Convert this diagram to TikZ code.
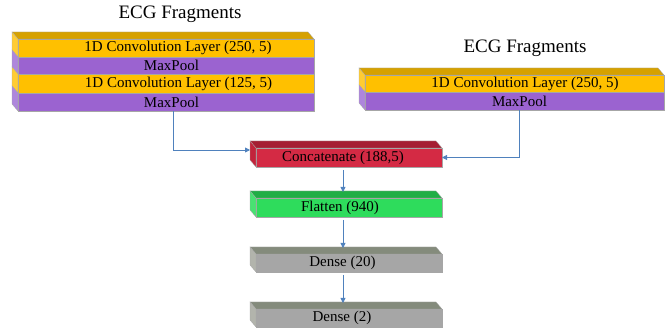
\documentclass[tikz,border=0pt]{standalone}
\usepackage{fontspec}
\setmainfont{Liberation Serif}
\usetikzlibrary{calc,arrows.meta}

\definecolor{convfront}{HTML}{FFC000}
\definecolor{convtop}{HTML}{D6A100}
\definecolor{convside}{HTML}{FFCC33}
\definecolor{poolfront}{HTML}{9B63D0}
\definecolor{poolside}{HTML}{AE86DC}
\definecolor{catfront}{HTML}{D42A44}
\definecolor{cattop}{HTML}{A51E32}
\definecolor{catside}{HTML}{C2243B}
\definecolor{flatfront}{HTML}{2EDC5C}
\definecolor{flattop}{HTML}{20AE45}
\definecolor{flatside}{HTML}{48E272}
\definecolor{densefront}{HTML}{A6A6A6}
\definecolor{densetop}{HTML}{848B7C}
\definecolor{denseside}{HTML}{B2B4AC}
\definecolor{linkblue}{HTML}{4F81BD}

% depth of the slanted faces (up and to the left)
\newcommand{\dx}{-6}
\newcommand{\dy}{-7}
% left side face of a slab
\newcommand{\sideface}[2]{%
  \filldraw[face, fill=#2] (#1.north west) -- (#1.south west)
    -- ++(\dx,\dy) -- ($(#1.north west)+(\dx,\dy)$) -- cycle;}
% top face of a slab
\newcommand{\topface}[2]{%
  \filldraw[face, fill=#2] (#1.north west) -- (#1.north east)
    -- ++(\dx,\dy) -- ($(#1.north west)+(\dx,\dy)$) -- cycle;}

\begin{document}
\begin{tikzpicture}[x=1pt,y=-1pt,
  face/.style={draw=black!35, line width=0.3pt},
  slab/.style={rectangle, anchor=north west, inner sep=0pt, outer sep=0pt,
    draw=black!35, line width=0.3pt, minimum width=#1,
    font=\fontsize{15}{18}\selectfont},
  tright/.style={execute at begin node={\hspace*{#1}}},
  tleft/.style={execute at end node={\hspace*{#1}}},
  title/.style={anchor=base, inner sep=0pt, font=\fontsize{19}{22}\selectfont},
  conn/.style={draw=linkblue, line width=0.8pt,
    -{Triangle[length=5pt,width=5pt]}}]

\useasboundingbox (0,0) rectangle (665,328);

% titles
\node[title] (t1) at (180,19) {ECG Fragments};
\node[title] (t2) at (525,53) {ECG Fragments};

% left branch
\node[slab=296pt, minimum height=18pt, fill=convfront, tright=24pt] (c1) at (18,39) {1D Convolution Layer (250, 5)};
\topface{c1}{convtop}
\sideface{c1}{convside}
\node[slab=296pt, minimum height=17pt, fill=poolfront, tright=11pt] (m1) at (18,57) {MaxPool};
\sideface{m1}{poolside}
\node[slab=296pt, minimum height=19pt, fill=convfront, tright=25pt] (c2) at (18,74) {1D Convolution Layer (125, 5)};
\sideface{c2}{convside}
\node[slab=296pt, minimum height=18pt, fill=poolfront, tright=11pt] (m2) at (18,93) {MaxPool};
\sideface{m2}{poolside}

% right branch
\node[slab=299pt, minimum height=17pt, fill=convfront, tright=21pt] (rc) at (365,75) {1D Convolution Layer (250, 5)};
\topface{rc}{convtop}
\sideface{rc}{convside}
\node[slab=299pt, minimum height=18pt, fill=poolfront, tright=10pt] (rm) at (365,92) {MaxPool};
\sideface{rm}{poolside}

% merged trunk
\node[slab=186pt, minimum height=19pt, fill=catfront, tleft=12pt] (cat) at (256,148) {Concatenate (188,5)};
\topface{cat}{cattop}
\sideface{cat}{catside}
\node[slab=186pt, minimum height=19pt, fill=flatfront, tleft=18pt] (flat) at (256,198) {Flatten (940)};
\topface{flat}{flattop}
\sideface{flat}{flatside}
\node[slab=186pt, minimum height=18pt, fill=densefront, tleft=13pt] (d20) at (256,254) {Dense (20)};
\topface{d20}{densetop}
\sideface{d20}{denseside}
\node[slab=186pt, minimum height=18pt, fill=densefront, tleft=14pt] (d2) at (256,309) {Dense (2)};
\topface{d2}{densetop}
\sideface{d2}{denseside}

% connectors
\draw[conn] ([xshift=7pt]m2.south) |- ([xshift=-6pt,yshift=7.5pt]cat.west);
\draw[conn] ([xshift=4.5pt]rm.south) |- (cat.east);
\draw[conn] ([xshift=-6pt,yshift=-3pt]cat.south) -- ([xshift=-6pt,yshift=6pt]flat.north);
\draw[conn] ([xshift=-6pt,yshift=-3pt]flat.south) -- ([xshift=-6pt,yshift=6pt]d20.north);
\draw[conn] ([xshift=-6pt,yshift=-3pt]d20.south) -- ([xshift=-6pt,yshift=6pt]d2.north);

\end{tikzpicture}
\end{document}
